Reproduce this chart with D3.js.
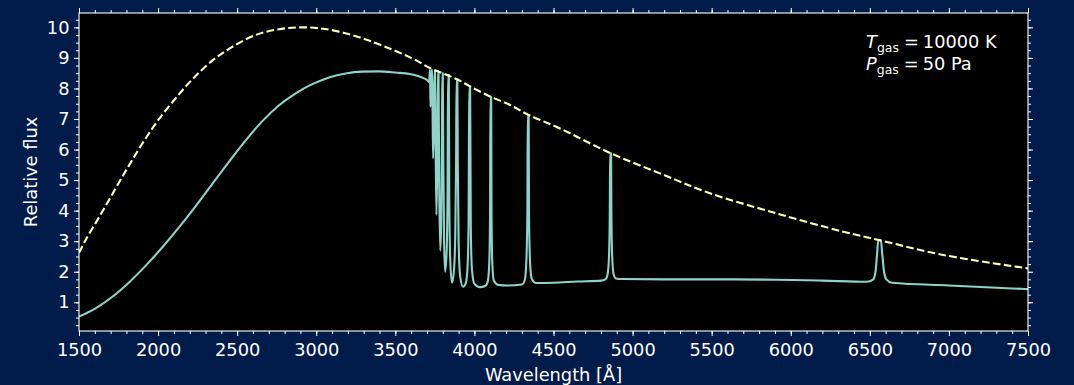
<!DOCTYPE html>
<html>
<head>
<meta charset="utf-8">
<script src="https://cdn.jsdelivr.net/npm/d3@7"></script>
<style>
  html, body { margin: 0; padding: 0; background: #011b4b; }
  svg { display: block; font-family: "DejaVu Sans", sans-serif; }
</style>
</head>
<body>
<div id="chart"></div>
<script>
// Blackbody reference curve (dashed)
const bbWavelength = [1500, 1542, 1616, 1690, 1774, 1837, 1922, 2006, 2111, 2217, 2343, 2469, 2617, 2765, 2900, 3017, 3144, 3291, 3439, 3608, 3730, 3803, 3889, 3972, 4102, 4225, 4340, 4541, 4861, 5173, 5489, 5911, 6332, 6564, 6964, 7500];
const bbFlux = [2.62, 3.04, 3.69, 4.35, 5.11, 5.66, 6.37, 7.00, 7.68, 8.30, 8.91, 9.36, 9.75, 9.94, 10.0, 9.97, 9.86, 9.64, 9.36, 8.98, 8.64, 8.49, 8.30, 8.07, 7.73, 7.46, 7.14, 6.69, 5.88, 5.22, 4.57, 3.91, 3.31, 3.03, 2.55, 2.11];

// Gas spectrum (solid), with the Balmer lines
const specWavelength = [
  1500, 1605, 1711, 1816, 1922, 2027, 2132, 2238, 2343, 2448, 2554, 2659, 2765, 2870, 2975, 3081, 3186, 3291, 3397, 3502, 3592, 3656, 3700, 3714,
  3718, 3720, 3722, 3726, 3730, 3733, 3736, 3739, 3744, 3748, 3751, 3755, 3760, 3765, 3769, 3773, 3777, 3784,
  3790, 3795, 3797, 3800, 3803, 3808, 3815, 3824, 3830, 3833, 3838, 3841, 3847, 3858,
  3870, 3879, 3884, 3887, 3892, 3895, 3900, 3910, 3928, 3945, 3956, 3963, 3967, 3973, 3977, 3984, 4000, 4035,
  4070, 4085, 4094, 4099, 4101, 4106, 4108, 4113, 4122, 4150, 4210, 4300, 4318, 4328, 4335, 4337, 4343, 4345, 4352, 4362, 4390,
  4500, 4650, 4800, 4830, 4842, 4851, 4856, 4858, 4864, 4866, 4871, 4880, 4895, 4930, 5200, 5500, 5900, 6200, 6480,
  6520, 6536, 6546, 6553, 6570, 6578, 6590, 6606, 6640, 7000, 7500
];
const specFlux = [
  0.53, 0.80, 1.18, 1.65, 2.20, 2.80, 3.45, 4.15, 4.88, 5.60, 6.30, 6.93, 7.45, 7.84, 8.14, 8.36, 8.49, 8.55, 8.56, 8.52, 8.47, 8.38, 8.28, 8.20,
  8.60, 8.60, 7.40, 7.90, 8.62, 8.62, 7.00, 5.71, 7.00, 8.58, 8.58, 6.00, 3.86, 5.50, 8.55, 8.55, 5.00, 2.69,
  3.60, 6.50, 8.50, 8.50, 6.00, 3.00, 2.00, 2.60, 4.50, 8.44, 8.44, 4.50, 2.40, 1.64,
  2.00, 3.20, 5.50, 8.30, 8.30, 5.50, 3.00, 1.85, 1.51, 1.62, 2.10, 3.50, 8.06, 8.06, 3.50, 2.10, 1.60, 1.49,
  1.54, 1.70, 2.30, 4.00, 7.72, 7.72, 4.00, 2.30, 1.72, 1.57, 1.55, 1.58, 1.72, 2.30, 4.00, 7.13, 7.13, 4.00, 2.30, 1.78, 1.63,
  1.64, 1.68, 1.71, 1.76, 1.92, 2.50, 4.00, 5.88, 5.88, 4.00, 2.50, 1.92, 1.78, 1.76, 1.75, 1.75, 1.74, 1.71, 1.67,
  1.74, 2.00, 2.60, 3.03, 3.03, 2.60, 2.00, 1.74, 1.64, 1.55, 1.43
];

// Axis ticks
const xMajorTicks = [1500, 2000, 2500, 3000, 3500, 4000, 4500, 5000, 5500, 6000, 6500, 7000, 7500];
const xMinorTicks = d3.range(1500, 7501, 100);
const yMajorTicks = [1, 2, 3, 4, 5, 6, 7, 8, 9, 10];
const yMinorTicks = d3.range(0.25, 10.5, 0.25);

const width = 1074, height = 385;
const margin = { top: 13, right: 46, bottom: 54, left: 79 };
const innerW = width - margin.left - margin.right;
const innerH = height - margin.top - margin.bottom;
const fontSize = 17.8;

const svg = d3.select('#chart').append('svg')
  .attr('width', width)
  .attr('height', height)
  .style('background-color', '#011b4b');

const g = svg.append('g')
  .attr('transform', `translate(${margin.left},${margin.top})`);

// Plot area
g.append('rect')
  .attr('width', innerW)
  .attr('height', innerH)
  .attr('fill', '#000000');

g.append('clipPath').attr('id', 'clip')
  .append('rect').attr('width', innerW).attr('height', innerH);

const x = d3.scaleLinear().domain([1500, 7500]).range([0, innerW]);
const y = d3.scaleLinear().domain([0.06, 10.47]).range([innerH, 0]);

// Axes: majors + unlabeled minors on all four sides
function styleAxis(sel) {
  sel.select('.domain').remove();
  sel.selectAll('line').attr('stroke', '#ffffff').attr('stroke-width', 1);
  sel.selectAll('text').attr('fill', '#ffffff').style('font-size', fontSize + 'px')
    .style('font-family', '"DejaVu Sans", sans-serif');
}

g.append('g').attr('transform', `translate(0,${innerH})`)
  .call(d3.axisBottom(x).tickValues(xMinorTicks).tickSize(3).tickFormat(''))
  .call(styleAxis);
g.append('g').attr('transform', `translate(0,${innerH})`)
  .call(d3.axisBottom(x).tickValues(xMajorTicks).tickSize(5).tickPadding(7).tickFormat(d3.format('d')))
  .call(styleAxis);
g.append('g')
  .call(d3.axisTop(x).tickValues(xMinorTicks).tickSize(3).tickFormat(''))
  .call(styleAxis);
g.append('g')
  .call(d3.axisTop(x).tickValues(xMajorTicks).tickSize(5).tickFormat(''))
  .call(styleAxis);

g.append('g')
  .call(d3.axisLeft(y).tickValues(yMinorTicks).tickSize(3).tickFormat(''))
  .call(styleAxis);
g.append('g')
  .call(d3.axisLeft(y).tickValues(yMajorTicks).tickSize(5).tickPadding(4.5).tickFormat(d3.format('d')))
  .call(styleAxis);
g.append('g').attr('transform', `translate(${innerW},0)`)
  .call(d3.axisRight(y).tickValues(yMinorTicks).tickSize(3).tickFormat(''))
  .call(styleAxis);
g.append('g').attr('transform', `translate(${innerW},0)`)
  .call(d3.axisRight(y).tickValues(yMajorTicks).tickSize(5).tickFormat(''))
  .call(styleAxis);

// Lines: monotone for the spiky spectrum, smooth spline for the blackbody
const specLine = d3.line()
  .x(d => x(d[0]))
  .y(d => y(d[1]))
  .curve(d3.curveMonotoneX);

const bbLine = d3.line()
  .x(d => x(d[0]))
  .y(d => y(d[1]))
  .curve(d3.curveCatmullRom.alpha(0.5));

const plot = g.append('g').attr('clip-path', 'url(#clip)');

plot.append('path')
  .datum(specWavelength.map((w, i) => [w, specFlux[i]]))
  .attr('d', specLine)
  .attr('fill', 'none')
  .attr('stroke', '#8dd3c7')
  .attr('stroke-width', 2.1)
  .attr('stroke-linejoin', 'round');

plot.append('path')
  .datum(bbWavelength.map((w, i) => [w, bbFlux[i]]))
  .attr('d', bbLine)
  .attr('fill', 'none')
  .attr('stroke', '#feffb3')
  .attr('stroke-width', 2.1)
  .attr('stroke-dasharray', '7.7,3.3');

// Frame
g.append('rect')
  .attr('width', innerW)
  .attr('height', innerH)
  .attr('fill', 'none')
  .attr('stroke', '#ffffff')
  .attr('stroke-width', 1.1);

// Axis labels
svg.append('text')
  .attr('x', margin.left + innerW / 2)
  .attr('y', 381)
  .attr('text-anchor', 'middle')
  .attr('fill', '#ffffff')
  .style('font-size', fontSize + 'px')
  .text('Wavelength [Å]');

svg.append('text')
  .attr('transform', `translate(37,${margin.top + innerH / 2}) rotate(-90)`)
  .attr('text-anchor', 'middle')
  .attr('fill', '#ffffff')
  .style('font-size', fontSize + 'px')
  .text('Relative flux');

// Annotation with subscripts
const notes = [
  { sym: 'T', value: '10000 K', yPos: 48 },
  { sym: 'P', value: '50 Pa', yPos: 70 }
];
notes.forEach(n => {
  const t = svg.append('text')
    .attr('x', 866)
    .attr('y', n.yPos)
    .attr('fill', '#ffffff')
    .style('font-size', fontSize + 'px');
  t.append('tspan').style('font-style', 'italic').text(n.sym);
  t.append('tspan').attr('dy', 4).style('font-size', (fontSize * 0.7) + 'px').text('gas');
  t.append('tspan').attr('dy', -4).attr('dx', 5).text('=');
  t.append('tspan').attr('dx', 4).text(n.value);
});
</script>
</body>
</html>
